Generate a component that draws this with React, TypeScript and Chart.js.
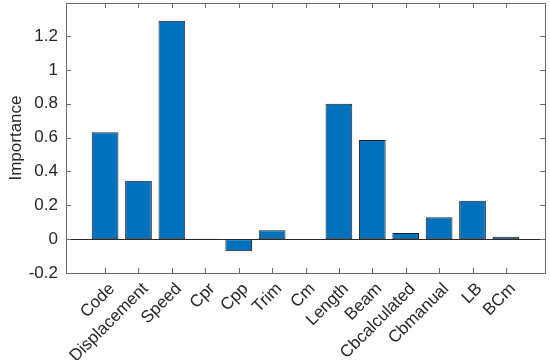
import React, { useEffect, useRef } from "react";
import { Chart, registerables } from "chart.js";

Chart.register(...registerables);

const categories = ["Code", "Displacement", "Speed", "Cpr", "Cpp", "Trim", "Cm", "Length", "Beam", "Cbcalculated", "Cbmanual", "LB", "BCm"];
const importance = [0.632, 0.345, 1.29, 0.003, -0.071, 0.052, -0.002, 0.8, 0.586, 0.037, 0.13, 0.227, 0.014];
const yTicks = [-0.2, 0, 0.2, 0.4, 0.6, 0.8, 1, 1.2];
const yLabel = "Importance";

const FONT = "'Liberation Sans', Arial, sans-serif";
const AXIS = "#6a6a6a";

const framePlugin = {
  id: "frame",
  beforeDatasetsDraw(chart: any) {
    const { ctx, chartArea, scales } = chart;
    const y0 = Math.round(scales.y.getPixelForValue(0)) + 0.5;
    ctx.save();
    ctx.strokeStyle = "#2a2a2a";
    ctx.lineWidth = 1;
    ctx.beginPath();
    ctx.moveTo(chartArea.left, y0);
    ctx.lineTo(chartArea.right, y0);
    ctx.stroke();
    ctx.restore();
  },
  afterDraw(chart: any) {
    const { ctx, chartArea, scales } = chart;
    const { left, right, top, bottom } = chartArea;
    ctx.save();
    ctx.strokeStyle = AXIS;
    ctx.lineWidth = 1;
    ctx.strokeRect(Math.round(left) + 0.5, Math.round(top) + 0.5, Math.round(right - left), Math.round(bottom - top));
    ctx.beginPath();
    const tl = 5;
    yTicks.forEach((v) => {
      const p = Math.round(scales.y.getPixelForValue(v)) + 0.5;
      ctx.moveTo(left, p);
      ctx.lineTo(left + tl, p);
      ctx.moveTo(right, p);
      ctx.lineTo(right - tl, p);
    });
    categories.forEach((_, i) => {
      const p = Math.round(scales.x.getPixelForValue(i)) + 0.5;
      ctx.moveTo(p, bottom);
      ctx.lineTo(p, bottom - tl);
      ctx.moveTo(p, top);
      ctx.lineTo(p, top + tl);
    });
    ctx.stroke();
    ctx.fillStyle = "#262626";
    ctx.font = `17px ${FONT}`;
    ctx.textAlign = "center";
    ctx.textBaseline = "middle";
    ctx.translate(16, (top + bottom) / 2);
    ctx.rotate(-Math.PI / 2);
    ctx.fillText(yLabel, 0, 0);
    ctx.restore();
  },
};

export default function App() {
  const ref = useRef<HTMLCanvasElement>(null);
  useEffect(() => {
    document.body.style.margin = "0";
    const chart = new Chart(ref.current!, {
      type: "bar",
      data: {
        datasets: [
          {
            data: importance.map((v, i) => ({ x: i, y: v })),
            backgroundColor: "#0072BD",
            borderColor: "#222222",
            borderWidth: 1,
            borderSkipped: false,
            barPercentage: 0.8,
            categoryPercentage: 1,
          },
        ],
      },
      options: {
        animation: false,
        responsive: false,
        layout: { padding: { top: 3, right: 5, left: 0, bottom: 0 } },
        plugins: { legend: { display: false }, tooltip: { enabled: false } },
        scales: {
          x: {
            type: "linear",
            offset: false,
            min: -1.17,
            max: 13.17,
            afterBuildTicks: (scale: any) => {
              scale.ticks = categories.map((_, i) => ({ value: i }));
            },
            afterFit: (scale: any) => {
              scale.height = 87;
              scale.paddingLeft = 0;
              scale.paddingRight = 0;
              scale.paddingTop = 0;
              scale.paddingBottom = 0;
            },
            grid: { display: false, drawTicks: false, offset: false },
            border: { display: false },
            ticks: {
              autoSkip: false,
              minRotation: 45,
              maxRotation: 45,
              padding: 6,
              labelOffset: 7,
              color: "#262626",
              font: { family: FONT, size: 17 },
              callback: (v: any) => categories[Math.round(Number(v))] ?? "",
            },
          },
          y: {
            min: -0.2,
            max: 1.395,
            afterBuildTicks: (scale: any) => {
              scale.ticks = yTicks.map((v) => ({ value: v }));
            },
            afterFit: (scale: any) => {
              scale.width = 66;
              scale.paddingLeft = 0;
              scale.paddingRight = 0;
              scale.paddingTop = 0;
              scale.paddingBottom = 0;
            },
            grid: { display: false, drawTicks: false },
            border: { display: false },
            ticks: {
              padding: 8,
              color: "#262626",
              font: { family: FONT, size: 17 },
              callback: (v: any) => String(Math.round(Number(v) * 10) / 10),
            },
          },
        },
      },
      plugins: [framePlugin],
    } as any);
    return () => chart.destroy();
  }, []);
  return <canvas ref={ref} width={550} height={360} style={{ display: "block" }} />;
}
